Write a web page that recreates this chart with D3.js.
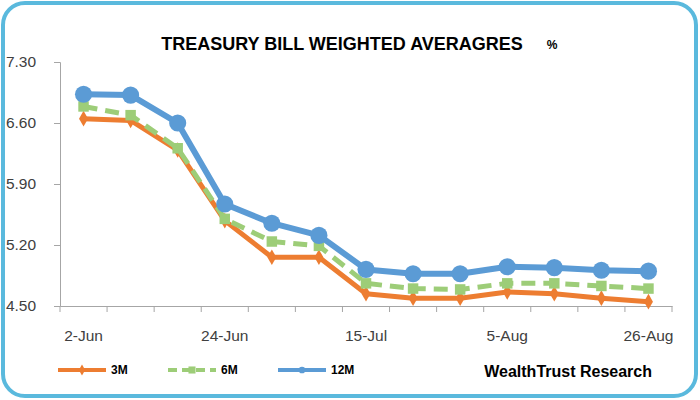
<!DOCTYPE html>
<html><head><meta charset="utf-8">
<script src="https://cdn.jsdelivr.net/npm/d3@7/dist/d3.min.js"></script>
<style>body{margin:0;background:#fff}svg{display:block}</style>
</head><body>
<svg id="c" width="700" height="400"></svg>
<script>
const categories = ["2-Jun","9-Jun","17-Jun","24-Jun","1-Jul","8-Jul","15-Jul","22-Jul","29-Jul","5-Aug","12-Aug","19-Aug","26-Aug"];
const shownLabels = ["2-Jun","24-Jun","15-Jul","5-Aug","26-Aug"];
const s3M  = [6.65,6.63,6.29,5.48,5.06,5.06,4.64,4.59,4.59,4.66,4.64,4.59,4.55];
const s6M  = [6.79,6.69,6.31,5.50,5.24,5.19,4.76,4.70,4.69,4.76,4.76,4.73,4.70];
const s12M = [6.93,6.92,6.60,5.67,5.45,5.31,4.92,4.87,4.87,4.95,4.94,4.91,4.90];
const yTicks = [4.50,5.20,5.90,6.60,7.30];
const seriesNames = ["3M","6M","12M"];

const svg = d3.select("#c");
const font = "'Liberation Sans', Arial, sans-serif";

// frame
svg.append("rect").attr("x",3).attr("y",3).attr("width",693).attr("height",393)
  .attr("rx",22).attr("fill","#fff").attr("stroke","#5ab9dd").attr("stroke-width",4);

const x = d3.scaleBand().domain(categories).range([60,672]);
const y = d3.scaleLinear().domain([4.5,7.3]).range([306,62]);

// y axis
const ya = svg.append("g").attr("transform","translate(60,0)")
  .call(d3.axisLeft(y).tickValues(yTicks).tickFormat(d3.format(".2f")).tickSizeOuter(0).tickSize(6));
ya.select(".domain").attr("stroke","#a6a6a6");
ya.selectAll(".tick line").attr("stroke","#a6a6a6");
ya.selectAll(".tick text").attr("font-family",font).attr("font-size",15.5).attr("fill","#404040")
  .attr("x",-39).attr("text-anchor","middle");

// x axis with ticks at category boundaries
const xa = svg.append("g").attr("transform","translate(0,306)")
  .call(d3.axisBottom(x).tickSize(0).tickFormat(d => shownLabels.includes(d) ? d : ""));
xa.select(".domain").attr("stroke","#a6a6a6");
xa.selectAll(".tick text").attr("font-family",font).attr("font-size",15.5).attr("fill","#404040")
  .attr("y",35).attr("dy",0);
const bounds = categories.map(c => x(c)).concat([x.range()[1]]);
svg.append("g").selectAll("line").data(bounds).join("line")
  .attr("x1",d=>d).attr("x2",d=>d).attr("y1",306).attr("y2",312).attr("stroke","#a6a6a6");

const cx = d => x(d) + x.bandwidth()/2;
const line = d3.line().x((d,i)=>cx(categories[i])).y(d=>y(d));

const defs = [
  {name:"3M", data:s3M, color:"#ed7d31", w:5, dash:null, marker:"diamond", size:70},
  {name:"6M", data:s6M, color:"#9dcd78", w:5, dash:"14,8", marker:"square", size:110},
  {name:"12M", data:s12M, color:"#5b9bd5", w:6, dash:null, marker:"circle", size:230}
];
const symType = {diamond:d3.symbolDiamond, square:d3.symbolSquare, circle:d3.symbolCircle};

defs.forEach(s => {
  svg.append("path").datum(s.data).attr("d",line).attr("fill","none")
    .attr("stroke",s.color).attr("stroke-width",s.w).attr("stroke-linejoin","round")
    .attr("stroke-dasharray",s.dash);
  svg.append("g").selectAll("path").data(s.data).join("path")
    .attr("transform",(d,i)=>`translate(${cx(categories[i])},${y(d)})`)
    .attr("d",d3.symbol().type(symType[s.marker]).size(s.size)).attr("fill",s.color);
});

// title
svg.append("text").attr("x",342).attr("y",50).attr("text-anchor","middle")
  .attr("font-family",font).attr("font-weight","bold").attr("font-size",18).attr("fill","#000")
  .text("TREASURY BILL WEIGHTED AVERAGRES");
svg.append("text").attr("x",552).attr("y",49).attr("text-anchor","middle")
  .attr("font-family",font).attr("font-weight","bold").attr("font-size",12).attr("fill","#000").text("%");

// legend
const legX = [58,168,278];
defs.forEach((s,i) => {
  const g = svg.append("g");
  g.append("line").attr("x1",legX[i]).attr("x2",legX[i]+48).attr("y1",370).attr("y2",370)
    .attr("stroke",s.color).attr("stroke-width",4).attr("stroke-dasharray",s.dash?"9,5":null);
  g.append("path").attr("transform",`translate(${legX[i]+24},370)`)
    .attr("d",d3.symbol().type(symType[s.marker]).size(s.name==="6M"?50:35)).attr("fill",s.color);
  g.append("text").attr("x",legX[i]+53).attr("y",374).attr("font-family",font)
    .attr("font-weight","bold").attr("font-size",12).attr("fill","#000").text(seriesNames[i]);
});
svg.append("text").attr("x",652).attr("y",377).attr("text-anchor","end")
  .attr("font-family",font).attr("font-weight","bold").attr("font-size",16).attr("fill","#000")
  .text("WealthTrust Research");
</script>
</body></html>
